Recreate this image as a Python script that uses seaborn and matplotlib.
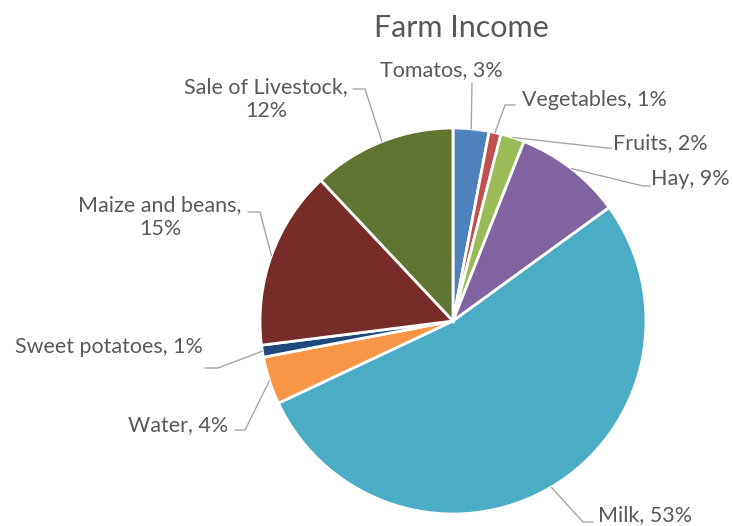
import numpy as np
import seaborn as sns
import matplotlib.pyplot as plt

sns.set_style("white")
plt.rcParams['font.family'] = ['Lato', 'DejaVu Sans']

# shares of farm income, clockwise from 12 o'clock
categories = ["Tomatos", "Vegetables", "Fruits", "Hay", "Milk", "Water",
              "Sweet potatoes", "Maize and beans", "Sale of Livestock"]
shares = [3, 1, 2, 9, 53, 4, 1, 15, 12]
colors = ["#4F81BD", "#C0504D", "#9BBB59", "#8064A2", "#4BACC6", "#F79646",
          "#1F497D", "#772C2A", "#5F7530"]
# labels that wrap onto two lines
two_line = {"Maize and beans", "Sale of Livestock"}

# label layout in pixel coords: text centre, elbow of leader, end of leader near text
label_pos = [(441, 70), (594, 100), (660, 143), (690, 179), (645, 515),
             (178, 425), (109, 347), (160, 217), (266, 99)]
elbows = [None, (505, 105), (607, 148), (643, 186), (583, 522),
          (245, 430), (218, 368), (260, 212), (365, 89)]
line_ends = [(472, 83), (515, 105), (612, 148), (650, 186), (593, 522),
             (235, 430), (205, 368), (248, 212), (353, 89)]

W, H = 733, 526
cx, cy, r = 453, 321, 193
text_col = "#595959"
line_col = "#A6A6A6"

fig = plt.figure(figsize=(W / 100, H / 100), dpi=100)
ax = fig.add_axes([0, 0, 1, 1])

wedges, _ = ax.pie(shares, colors=colors, startangle=-90, counterclock=True,
                   center=(cx, cy), radius=r,
                   wedgeprops=dict(edgecolor="white", linewidth=2.0))
ax.set_xlim(0, W)
ax.set_ylim(H, 0)
ax.set_aspect("equal")
ax.axis("off")

for w, name, val, tp, el, le in zip(wedges, categories, shares, label_pos, elbows, line_ends):
    sep = ",\n" if name in two_line else ", "
    ax.text(tp[0], tp[1], f"{name}{sep}{val}%", ha="center", va="center",
            fontsize=15.5, color=text_col, linespacing=1.3)
    mid = np.deg2rad((w.theta1 + w.theta2) / 2)
    start = (cx + r * np.cos(mid), cy + r * np.sin(mid))
    pts = [start] + ([el] if el else []) + [le]
    xs, ys = zip(*pts)
    ax.plot(xs, ys, color=line_col, linewidth=1.0)

ax.text(461, 28, "Farm Income", ha="center", va="center", fontsize=22,
        color=text_col)

fig.savefig("out.png", dpi=100, facecolor="white")
